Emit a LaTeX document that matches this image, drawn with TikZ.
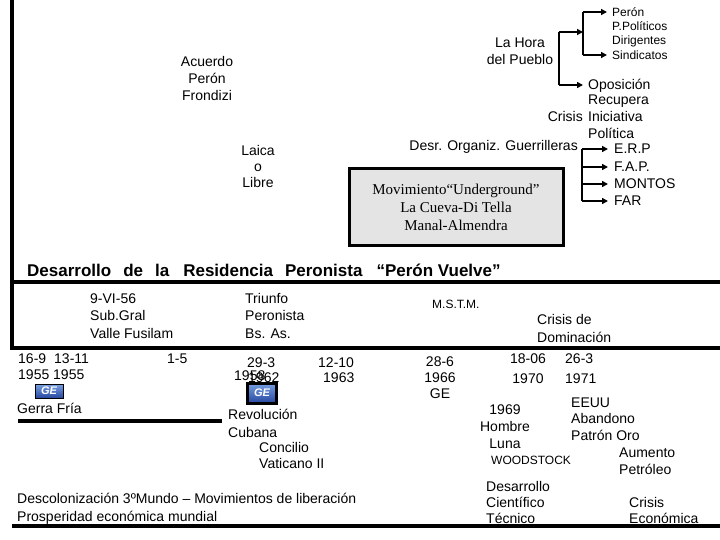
\documentclass[tikz,border=0pt]{standalone}
\usepackage{fontspec}
\setmainfont{Liberation Sans}
\newfontfamily\boxfont{Liberation Serif}
\usepackage{tikz}
\usetikzlibrary{arrows.meta,positioning}
\definecolor{geBlue}{RGB}{40,72,160}
\definecolor{geBlueLight}{RGB}{120,160,225}
\definecolor{boxGray}{RGB}{228,228,228}
\tikzset{
  txt/.style={inner sep=0pt, font=\fontsize{14}{17}\selectfont, align=left, anchor=base west},
  ctr/.style={txt, align=center, anchor=base},
  sm/.style={txt, font=\fontsize{12}{14.3}\selectfont},
  one/.style={txt, anchor=west, text height=10pt, text depth=0pt},
  onesm/.style={sm, anchor=west, text height=8.6pt, text depth=0pt},
  rule/.style={line width=3.5pt},
  brk/.style={line width=1.8pt},
  arr/.style={brk, -{Triangle[length=6pt,width=6pt]}, shorten >=5pt},
  geicon/.style={draw=black, line width=1pt, top color=geBlueLight, bottom color=geBlue, text=white,
    font=\bfseries\itshape\fontsize{11}{11}\selectfont, minimum width=28pt, minimum height=14pt, inner sep=0pt},
  mbox/.style={draw, line width=3pt, fill=boxGray, minimum width=214pt, minimum height=77pt,
    align=center, font=\boxfont\fontsize{15}{18}\selectfont},
  headline/.style={anchor=base west, inner sep=0pt, font=\bfseries\fontsize{17}{20}\selectfont}
}
\begin{document}
\begin{tikzpicture}[x=1pt,y=-1pt]
\useasboundingbox (0,0) rectangle (720,540);

\node[mbox] (under) at (456,207) {Movimiento“Underground”\\La Cueva-Di Tella\\Manal-Almendra};

\draw[rule] (12,0) -- (12,348);
\draw[rule] (10.25,282) -- (720,282);
\draw[rule] (10.25,348) -- (720,348);
\draw[rule] (12,526) -- (720,526);
\draw[rule] (18,421) -- (222,421);

\node[ctr] (acuerdo) at (207,101) {Acuerdo\\Perón\\Frondizi};
\node[ctr, font=\fontsize{14}{16}\selectfont] (laica) at (258,188) {Laica\\o\\Libre};
\node[ctr] (hora) at (520,65) {La Hora\\del Pueblo};

\node[onesm] (peron) at (612,12) {Perón};
\node[sm] (ppol) at (612,31) {P.Políticos};
\node[sm] (dirig) at (612,45) {Dirigentes};
\node[onesm] (sindic) at (612,55) {Sindicatos};

\node[one] (opos) at (588,85) {Oposición};
\node[txt] (recup) at (588,105) {Recupera};
\node[txt] (inic) at (588,122) {Iniciativa};
\node[txt, anchor=base east] (crisis) at (583,122) {Crisis};
\node[txt] (polit) at (588,139) {Política};
\node[txt, anchor=base east] (guerr) at (578,151) {Desr. Organiz. Guerrilleras};

\node[one] (erp) at (614,149) {E.R.P};
\node[one] (fap) at (614,167) {F.A.P.};
\node[one] (montos) at (614,184) {MONTOS};
\node[one] (far) at (614,201) {FAR};

\coordinate (sp1a) at (559,32);
\coordinate (sp1b) at (559,85);
\coordinate (sp2a) at (583,12);
\coordinate (sp2b) at (583,55);
\coordinate (sp2m) at (583,32);
\coordinate (sp3a) at (582,149);
\coordinate (sp3b) at (582,201);
\draw[brk] (sp1a) -- (sp1b);
\draw[brk] (sp2a) -- (sp2b);
\draw[brk] (sp3a) -- (sp3b);
\draw[arr, shorten >=0pt] (sp1a) -- (sp2m);
\draw[arr] (sp1b) -- (opos.west);
\draw[arr] (sp2a) -- (peron.west);
\draw[arr] (sp2b) -- (sindic.west);
\draw[arr, shorten >=6pt] (sp3a) -- (erp.west);
\draw[arr, shorten >=6pt] (sp3a |- fap.west) -- (fap.west);
\draw[arr, shorten >=6pt] (sp3a |- montos.west) -- (montos.west);
\draw[arr, shorten >=6pt] (sp3b) -- (far.west);

\node[headline] (title) at (27,276) {Desarrollo\hspace{12pt}de\hspace{12pt}la\hspace{14pt}Residencia\hspace{12pt}Peronista\hspace{14pt}“Perón Vuelve”};

\node[txt, font=\fontsize{14}{17.5}\selectfont] (fusil) at (90,338) {9-VI-56\\Sub.Gral\\Valle Fusilam};
\node[txt, font=\fontsize{14}{17.5}\selectfont] (triunfo) at (245,338) {Triunfo\\Peronista\\Bs. As.};
\node[sm] (mstm) at (432,308) {M.S.T.M.};
\node[txt, font=\fontsize{14}{18}\selectfont] (domin) at (537,342) {Crisis de\\Dominación};

\node[txt, font=\fontsize{14}{16}\selectfont] (d1955) at (18,379) {16-9\hspace{8pt}13-11\\1955 1955};
\node[txt] (d15) at (167,363) {1-5};
\node[txt] (d293) at (247,367) {29-3};
\node[txt] (d1958) at (234,380) {1958};
\node[txt] (d1962) at (248,382) {1962};
\node[txt] (d1210) at (318,367) {12-10};
\node[txt] (d1963) at (323,382) {1963};
\node[geicon] (ge1) at (49,391) {GE};
\node[geicon, line width=3pt, minimum width=29pt, minimum height=20pt] (ge2) at (262,393) {GE};
\node[txt] (fria) at (17,413) {Gerra Fría};
\node[txt, font=\fontsize{14}{18}\selectfont] (cuba) at (228,437) {Revolución\\Cubana};
\node[txt, font=\fontsize{14}{16}\selectfont] (concilio) at (259,468) {Concilio\\Vaticano II};
\node[txt, font=\fontsize{14}{18}\selectfont] (descol) at (17,521) {Descolonización 3ºMundo – Movimientos de liberación\\Prosperidad económica mundial};

\node[ctr, font=\fontsize{14}{16}\selectfont] (d1966) at (440,398) {28-6\\1966\\GE};
\node[ctr, font=\fontsize{14}{20}\selectfont] (d1970) at (528,383) {18-06\\1970};
\node[txt, font=\fontsize{14}{20}\selectfont] (d1971) at (565,383) {26-3\\1971};
\node[txt, font=\fontsize{14}{16.5}\selectfont] (eeuu) at (571,440) {EEUU\\Abandono\\Patrón Oro};
\node[ctr, font=\fontsize{14}{17}\selectfont] (luna) at (505,448) {1969\\Hombre\\Luna};
\node[sm] (woods) at (491,464) {WOODSTOCK};
\node[txt] (petro) at (619,474) {Aumento\\Petróleo};
\node[txt, font=\fontsize{14}{16}\selectfont] (cient) at (486,523) {Desarrollo\\Científico\\Técnico};
\node[txt, font=\fontsize{14}{16}\selectfont] (crisisec) at (629,523) {Crisis\\Económica};
\end{tikzpicture}
\end{document}
